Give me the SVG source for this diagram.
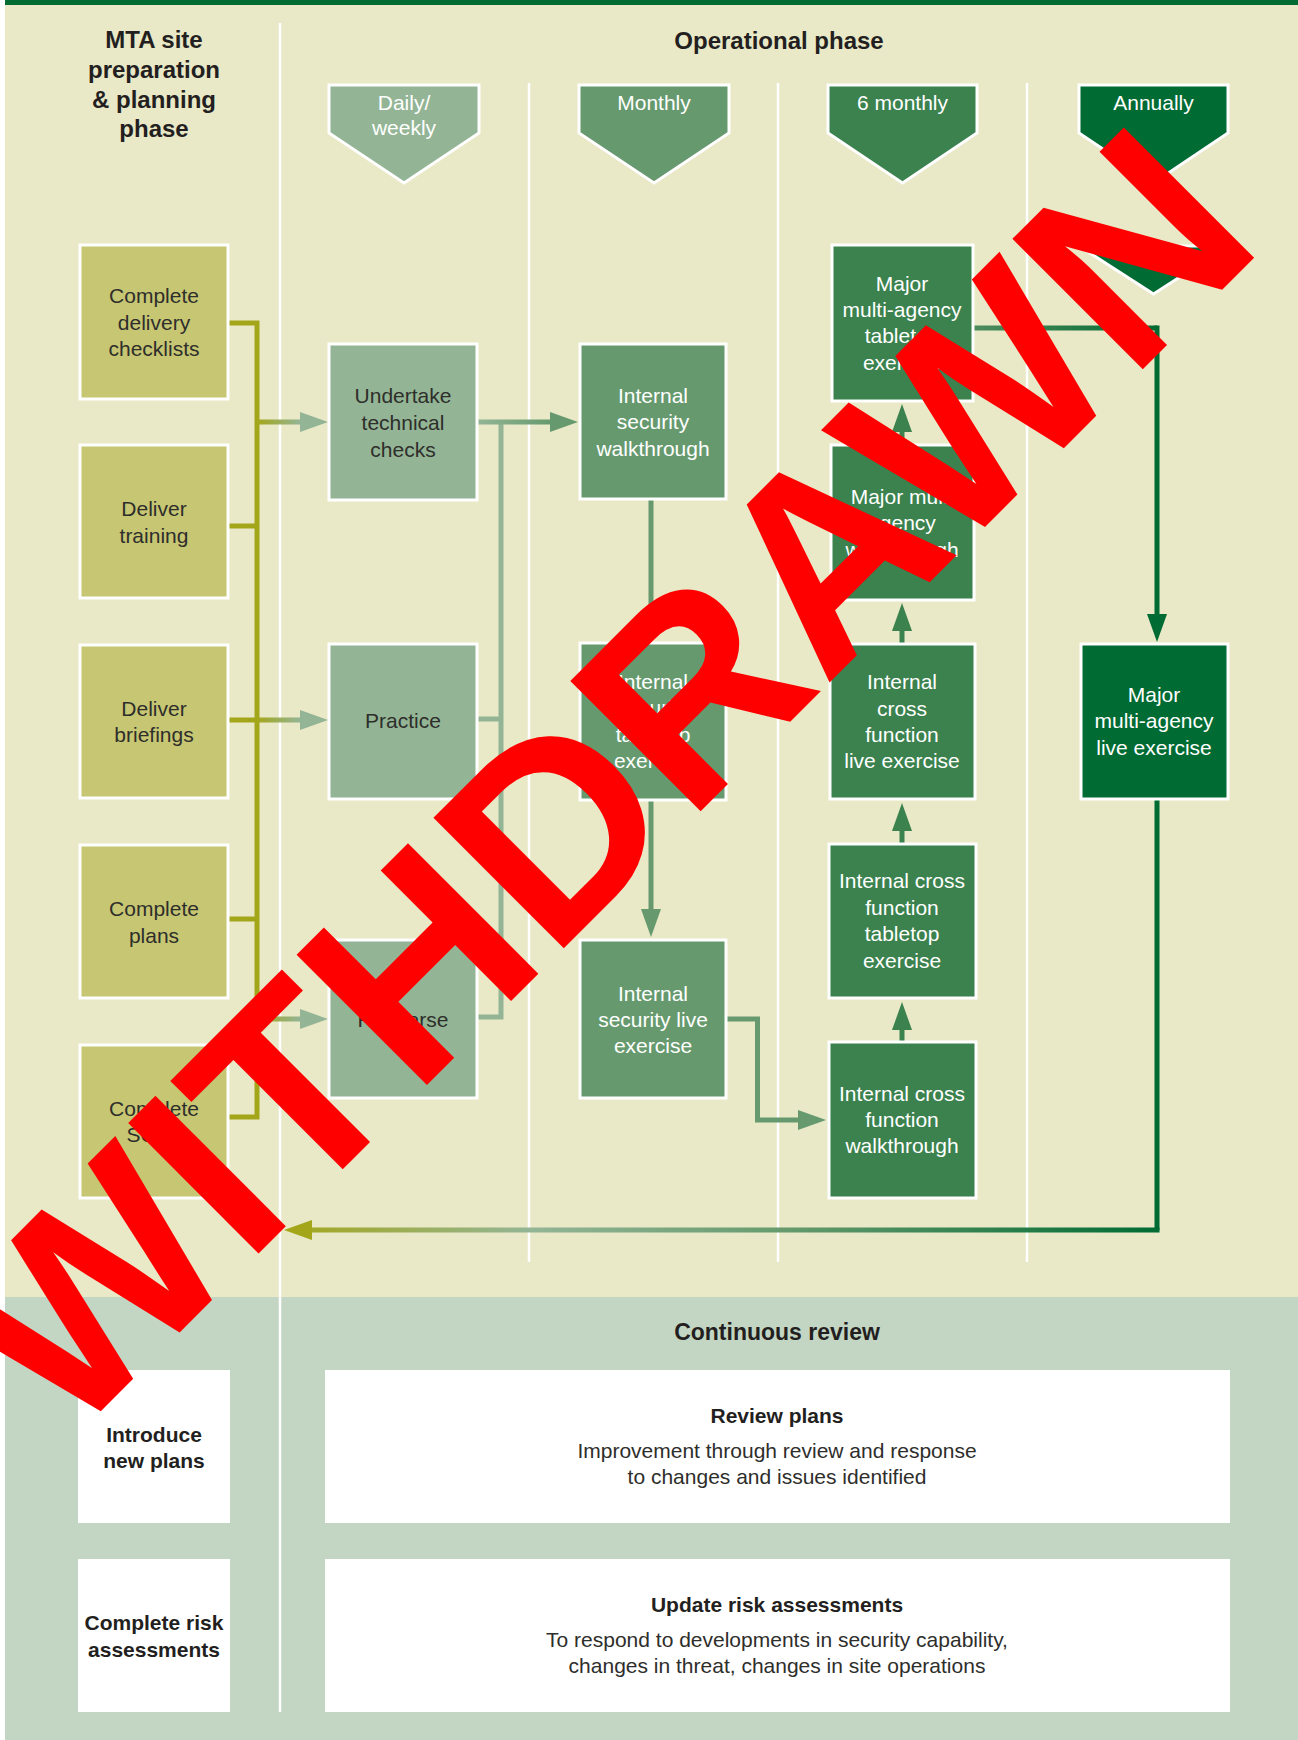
<svg xmlns="http://www.w3.org/2000/svg" width="1298" height="1740" viewBox="0 0 1298 1740">
<defs>
<style>
text{font-family:"Liberation Sans",Arial,sans-serif;text-anchor:middle}
.hd{font-size:24px;font-weight:bold;fill:#231f20}
.bd{font-size:21px;font-weight:bold;fill:#231f20}
.t{font-size:21px}
.dk{fill:#2e2e2b}
.wt{fill:#ffffff}
.box{stroke:#ffffff;stroke-width:3}
.ol{fill:#c7c673}
.sg{fill:#93b595}
.mo{fill:#669a6e}
.sx{fill:#3b824e}
.an{fill:#006b33}
.div{stroke:#ffffff;stroke-width:2.5}
.ln{fill:none;stroke-width:5}
</style>
<marker id="mSg" viewBox="0 0 28 20" markerWidth="28" markerHeight="20" refX="0" refY="10" orient="auto" markerUnits="userSpaceOnUse"><path d="M0,0 L28,10 L0,20 z" fill="#93b595"/></marker>
<marker id="mMo" viewBox="0 0 28 20" markerWidth="28" markerHeight="20" refX="0" refY="10" orient="auto" markerUnits="userSpaceOnUse"><path d="M0,0 L28,10 L0,20 z" fill="#669a6e"/></marker>
<marker id="mSx" viewBox="0 0 28 20" markerWidth="28" markerHeight="20" refX="0" refY="10" orient="auto" markerUnits="userSpaceOnUse"><path d="M0,0 L28,10 L0,20 z" fill="#3b824e"/></marker>
<marker id="mAn" viewBox="0 0 28 20" markerWidth="28" markerHeight="20" refX="0" refY="10" orient="auto" markerUnits="userSpaceOnUse"><path d="M0,0 L28,10 L0,20 z" fill="#006b33"/></marker>
<marker id="mOl" viewBox="0 0 28 20" markerWidth="28" markerHeight="20" refX="0" refY="10" orient="auto" markerUnits="userSpaceOnUse"><path d="M0,0 L28,10 L0,20 z" fill="#a4a61a"/></marker>
<linearGradient id="gOl" gradientUnits="userSpaceOnUse" x1="257" y1="0" x2="300" y2="0"><stop offset="0" stop-color="#a4a61a"/><stop offset="1" stop-color="#93b595"/></linearGradient>
<linearGradient id="gSg" gradientUnits="userSpaceOnUse" x1="478" y1="0" x2="550" y2="0"><stop offset="0" stop-color="#93b595"/><stop offset="1" stop-color="#669a6e"/></linearGradient>
<linearGradient id="gSx" gradientUnits="userSpaceOnUse" x1="974" y1="0" x2="1157" y2="0"><stop offset="0" stop-color="#4f8c5c"/><stop offset="1" stop-color="#006b33"/></linearGradient>
<linearGradient id="gRet" gradientUnits="userSpaceOnUse" x1="1160" y1="0" x2="284" y2="0"><stop offset="0" stop-color="#006b33"/><stop offset="0.43" stop-color="#669a6e"/><stop offset="0.72" stop-color="#93b595"/><stop offset="1" stop-color="#a4a61a"/></linearGradient>
</defs>

<g id="background">
<rect x="0" y="0" width="1298" height="1740" fill="#ffffff"/>
<rect x="5" y="0" width="1293" height="1297" fill="#e9e8c7"/>
<rect x="5" y="0" width="1293" height="5" fill="#006b33"/>
<rect x="5" y="1297" width="1293" height="443" fill="#c3d6c3"/>
<line class="div" x1="280" y1="23" x2="280" y2="1712"/>
<line class="div" x1="529" y1="83" x2="529" y2="1262"/>
<line class="div" x1="778" y1="83" x2="778" y2="1262"/>
<line class="div" x1="1027" y1="83" x2="1027" y2="1262"/>
</g>

<g id="titles">
<text class="hd" x="154" y="48">MTA site</text>
<text class="hd" x="154" y="78">preparation</text>
<text class="hd" x="154" y="108">&amp; planning</text>
<text class="hd" x="154" y="137">phase</text>
<text class="hd" x="779" y="49">Operational phase</text>
<text class="hd" x="777" y="1340" style="font-size:23px">Continuous review</text>
</g>

<g id="hdr-daily"><polygon class="box sg" points="329,85 479,85 479,133 404,183 329,133"/><text class="t wt" x="404" y="110">Daily/</text><text class="t wt" x="404" y="135">weekly</text></g>
<g id="hdr-monthly"><polygon class="box mo" points="579,85 729,85 729,133 654,183 579,133"/><text class="t wt" x="654" y="110">Monthly</text></g>
<g id="hdr-6monthly"><polygon class="box sx" points="828,85 977,85 977,133 902.5,183 828,133"/><text class="t wt" x="902.5" y="110">6 monthly</text></g>
<g id="hdr-annually"><polygon class="box an" points="1079,85 1228,85 1228,133 1153.5,183 1079,133"/><text class="t wt" x="1153.5" y="110">Annually</text></g>
<g id="annual-marker"><polygon class="box an" points="1079,246 1228,246 1153.5,294"/></g>

<g id="connectors">
<path class="ln" stroke="#a4a61a" d="M229,323 H257 M229,526 H257 M229,720 H257 M229,919 H257 M229,1117 H257 M257,320.5 V1119.5"/>
<path class="ln" stroke="url(#gOl)" d="M257,422 H300" marker-end="url(#mSg)"/>
<path class="ln" stroke="url(#gOl)" d="M257,720 H300" marker-end="url(#mSg)"/>
<path class="ln" stroke="url(#gOl)" d="M257,1019 H300" marker-end="url(#mSg)"/>
<path class="ln" stroke="#93b595" d="M501,422 V1019.5 M478,719 H501 M478,1017 H501"/>
<path class="ln" stroke="url(#gSg)" d="M478,422 H550" marker-end="url(#mMo)"/>
<path class="ln" stroke="#669a6e" d="M651,500 V614" marker-end="url(#mMo)"/>
<path class="ln" stroke="#669a6e" d="M651,801 V909" marker-end="url(#mMo)"/>
<path class="ln" stroke="#669a6e" d="M727,1019 H757.5 V1120 H798" marker-end="url(#mMo)"/>
<path class="ln" stroke="#3b824e" d="M902,1042 V1030" marker-end="url(#mSx)"/>
<path class="ln" stroke="#3b824e" d="M902,843 V831" marker-end="url(#mSx)"/>
<path class="ln" stroke="#3b824e" d="M902,643 V631" marker-end="url(#mSx)"/>
<path class="ln" stroke="#3b824e" d="M902,444 V432" marker-end="url(#mSx)"/>
<path class="ln" stroke="url(#gSx)" d="M974,328 H1157"/>
<path class="ln" stroke="#006b33" d="M1157,325.5 V614" marker-end="url(#mAn)"/>
<path class="ln" stroke="#006b33" d="M1157,800 V1230"/>
<path class="ln" stroke="url(#gRet)" d="M1159.5,1230 H312" marker-end="url(#mOl)"/>
</g>

<g id="prep-checklists"><rect class="box ol" x="80" y="245" width="148" height="154"/><text class="t dk" x="154" y="303">Complete</text><text class="t dk" x="154" y="330">delivery</text><text class="t dk" x="154" y="356">checklists</text></g>
<g id="prep-training"><rect class="box ol" x="80" y="445" width="148" height="153"/><text class="t dk" x="154" y="516">Deliver</text><text class="t dk" x="154" y="543">training</text></g>
<g id="prep-briefings"><rect class="box ol" x="80" y="645" width="148" height="153"/><text class="t dk" x="154" y="716">Deliver</text><text class="t dk" x="154" y="742">briefings</text></g>
<g id="prep-plans"><rect class="box ol" x="80" y="845" width="148" height="153"/><text class="t dk" x="154" y="916">Complete</text><text class="t dk" x="154" y="943">plans</text></g>
<g id="prep-sops"><rect class="box ol" x="80" y="1045" width="148" height="153"/><text class="t dk" x="154" y="1116">Complete</text><text class="t dk" x="154" y="1142">SOPs</text></g>

<g id="daily-checks"><rect class="box sg" x="329" y="344" width="148" height="156"/><text class="t dk" x="403" y="403">Undertake</text><text class="t dk" x="403" y="430">technical</text><text class="t dk" x="403" y="457">checks</text></g>
<g id="daily-practice"><rect class="box sg" x="329" y="644" width="148" height="155"/><text class="t dk" x="403" y="728">Practice</text></g>
<g id="daily-rehearse"><rect class="box sg" x="329" y="940" width="148" height="158"/><text class="t dk" x="403" y="1027">Rehearse</text></g>

<g id="monthly-walkthrough"><rect class="box mo" x="580" y="344" width="146" height="155"/><text class="t wt" x="653" y="403">Internal</text><text class="t wt" x="653" y="429">security</text><text class="t wt" x="653" y="456">walkthrough</text></g>
<g id="monthly-tabletop"><rect class="box mo" x="580" y="643" width="146" height="157"/><text class="t wt" x="653" y="689">Internal</text><text class="t wt" x="653" y="715">security</text><text class="t wt" x="653" y="742">tabletop</text><text class="t wt" x="653" y="768">exercise</text></g>
<g id="monthly-live"><rect class="box mo" x="580" y="940" width="146" height="158"/><text class="t wt" x="653" y="1001">Internal</text><text class="t wt" x="653" y="1027">security live</text><text class="t wt" x="653" y="1053">exercise</text></g>

<g id="six-major-tabletop"><rect class="box sx" x="832" y="245" width="141" height="156"/><text class="t wt" x="902" y="291">Major</text><text class="t wt" x="902" y="317">multi-agency</text><text class="t wt" x="902" y="343">tabletop</text><text class="t wt" x="902" y="370">exercise</text></g>
<g id="six-major-walkthrough"><rect class="box sx" x="831" y="445" width="143" height="155"/><text class="t wt" x="902" y="504">Major multi</text><text class="t wt" x="902" y="530">agency</text><text class="t wt" x="902" y="557">walkthrough</text></g>
<g id="six-cross-live"><rect class="box sx" x="830" y="644" width="145" height="155"/><text class="t wt" x="902" y="689">Internal</text><text class="t wt" x="902" y="716">cross</text><text class="t wt" x="902" y="742">function</text><text class="t wt" x="902" y="768">live exercise</text></g>
<g id="six-cross-tabletop"><rect class="box sx" x="829" y="844" width="147" height="154"/><text class="t wt" x="902" y="888">Internal cross</text><text class="t wt" x="902" y="915">function</text><text class="t wt" x="902" y="941">tabletop</text><text class="t wt" x="902" y="968">exercise</text></g>
<g id="six-cross-walkthrough"><rect class="box sx" x="829" y="1042" width="147" height="156"/><text class="t wt" x="902" y="1101">Internal cross</text><text class="t wt" x="902" y="1127">function</text><text class="t wt" x="902" y="1153">walkthrough</text></g>

<g id="annual-live"><rect class="box an" x="1081" y="644" width="147" height="155"/><text class="t wt" x="1154" y="702">Major</text><text class="t wt" x="1154" y="728">multi-agency</text><text class="t wt" x="1154" y="755">live exercise</text></g>

<g id="review-introduce"><rect x="78" y="1370" width="152" height="153" fill="#ffffff"/><text class="bd" x="154" y="1442">Introduce</text><text class="bd" x="154" y="1468">new plans</text></g>
<g id="review-risk"><rect x="78" y="1559" width="152" height="153" fill="#ffffff"/><text class="bd" x="154" y="1630">Complete risk</text><text class="bd" x="154" y="1657">assessments</text></g>
<g id="review-plans"><rect x="325" y="1370" width="905" height="153" fill="#ffffff"/><text class="bd" x="777" y="1423">Review plans</text><text class="t dk" x="777" y="1458">Improvement through review and response</text><text class="t dk" x="777" y="1484">to changes and issues identified</text></g>
<g id="review-update"><rect x="325" y="1559" width="905" height="153" fill="#ffffff"/><text class="bd" x="777" y="1612">Update risk assessments</text><text class="t dk" x="777" y="1647">To respond to developments in security capability,</text><text class="t dk" x="777" y="1673">changes in threat, changes in site operations</text></g>

<g id="stamp"><text x="67" y="1445" transform="rotate(-45 67 1445)" style="text-anchor:start;font-size:268px;font-weight:bold;fill:#ff0000">WITHDRAWN</text></g>
</svg>
